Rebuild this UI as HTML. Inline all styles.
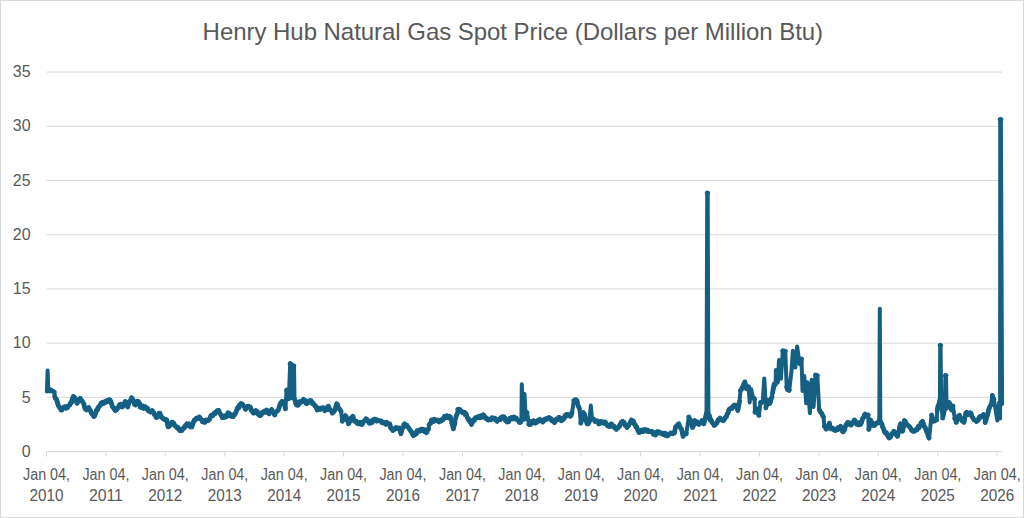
<!DOCTYPE html>
<html><head><meta charset="utf-8"><style>
html,body{margin:0;padding:0;background:#fff;}
body{width:1024px;height:518px;overflow:hidden;}
svg{display:block;}
text{font-family:"Liberation Sans",sans-serif;fill:#595959;}
</style></head><body>
<svg width="1024" height="518" viewBox="0 0 1024 518">
<rect x="0.5" y="0.5" width="1023" height="517" fill="#fff" stroke="#d9d9d9" stroke-width="1"/>
<text x="202.6" y="40.2" font-size="24" textLength="620.5" lengthAdjust="spacing">Henry Hub Natural Gas Spot Price (Dollars per Million Btu)</text>
<g stroke="#d9d9d9" stroke-width="1"><line x1="46.5" x2="1002" y1="397.38" y2="397.38"/><line x1="46.5" x2="1002" y1="343.16" y2="343.16"/><line x1="46.5" x2="1002" y1="288.94" y2="288.94"/><line x1="46.5" x2="1002" y1="234.72" y2="234.72"/><line x1="46.5" x2="1002" y1="180.50" y2="180.50"/><line x1="46.5" x2="1002" y1="126.28" y2="126.28"/><line x1="46.5" x2="1002" y1="72.06" y2="72.06"/></g>
<g font-size="16" text-anchor="end"><text x="30.6" y="456.80">0</text><text x="30.6" y="402.58">5</text><text x="30.6" y="348.36">10</text><text x="30.6" y="294.14">15</text><text x="30.6" y="239.92">20</text><text x="30.6" y="185.70">25</text><text x="30.6" y="131.48">30</text><text x="30.6" y="77.26">35</text></g>
<g stroke="#d9d9d9" stroke-width="1">
<line x1="46.5" x2="1002" y1="451.6" y2="451.6"/><line x1="46.50" x2="46.50" y1="451.6" y2="456.6"/><line x1="105.88" x2="105.88" y1="451.6" y2="456.6"/><line x1="165.26" x2="165.26" y1="451.6" y2="456.6"/><line x1="224.80" x2="224.80" y1="451.6" y2="456.6"/><line x1="284.18" x2="284.18" y1="451.6" y2="456.6"/><line x1="343.56" x2="343.56" y1="451.6" y2="456.6"/><line x1="402.94" x2="402.94" y1="451.6" y2="456.6"/><line x1="462.48" x2="462.48" y1="451.6" y2="456.6"/><line x1="521.86" x2="521.86" y1="451.6" y2="456.6"/><line x1="581.24" x2="581.24" y1="451.6" y2="456.6"/><line x1="640.62" x2="640.62" y1="451.6" y2="456.6"/><line x1="700.16" x2="700.16" y1="451.6" y2="456.6"/><line x1="759.54" x2="759.54" y1="451.6" y2="456.6"/><line x1="818.92" x2="818.92" y1="451.6" y2="456.6"/><line x1="878.30" x2="878.30" y1="451.6" y2="456.6"/><line x1="937.84" x2="937.84" y1="451.6" y2="456.6"/><line x1="997.22" x2="997.22" y1="451.6" y2="456.6"/></g>
<g font-size="16"><text x="23.00" y="479.5" textLength="47" lengthAdjust="spacingAndGlyphs">Jan 04,</text><text x="29.50" y="501" textLength="34" lengthAdjust="spacingAndGlyphs">2010</text><text x="82.38" y="479.5" textLength="47" lengthAdjust="spacingAndGlyphs">Jan 04,</text><text x="88.88" y="501" textLength="34" lengthAdjust="spacingAndGlyphs">2011</text><text x="141.76" y="479.5" textLength="47" lengthAdjust="spacingAndGlyphs">Jan 04,</text><text x="148.26" y="501" textLength="34" lengthAdjust="spacingAndGlyphs">2012</text><text x="201.30" y="479.5" textLength="47" lengthAdjust="spacingAndGlyphs">Jan 04,</text><text x="207.80" y="501" textLength="34" lengthAdjust="spacingAndGlyphs">2013</text><text x="260.68" y="479.5" textLength="47" lengthAdjust="spacingAndGlyphs">Jan 04,</text><text x="267.18" y="501" textLength="34" lengthAdjust="spacingAndGlyphs">2014</text><text x="320.06" y="479.5" textLength="47" lengthAdjust="spacingAndGlyphs">Jan 04,</text><text x="326.56" y="501" textLength="34" lengthAdjust="spacingAndGlyphs">2015</text><text x="379.44" y="479.5" textLength="47" lengthAdjust="spacingAndGlyphs">Jan 04,</text><text x="385.94" y="501" textLength="34" lengthAdjust="spacingAndGlyphs">2016</text><text x="438.98" y="479.5" textLength="47" lengthAdjust="spacingAndGlyphs">Jan 04,</text><text x="445.48" y="501" textLength="34" lengthAdjust="spacingAndGlyphs">2017</text><text x="498.36" y="479.5" textLength="47" lengthAdjust="spacingAndGlyphs">Jan 04,</text><text x="504.86" y="501" textLength="34" lengthAdjust="spacingAndGlyphs">2018</text><text x="557.74" y="479.5" textLength="47" lengthAdjust="spacingAndGlyphs">Jan 04,</text><text x="564.24" y="501" textLength="34" lengthAdjust="spacingAndGlyphs">2019</text><text x="617.12" y="479.5" textLength="47" lengthAdjust="spacingAndGlyphs">Jan 04,</text><text x="623.62" y="501" textLength="34" lengthAdjust="spacingAndGlyphs">2020</text><text x="676.66" y="479.5" textLength="47" lengthAdjust="spacingAndGlyphs">Jan 04,</text><text x="683.16" y="501" textLength="34" lengthAdjust="spacingAndGlyphs">2021</text><text x="736.04" y="479.5" textLength="47" lengthAdjust="spacingAndGlyphs">Jan 04,</text><text x="742.54" y="501" textLength="34" lengthAdjust="spacingAndGlyphs">2022</text><text x="795.42" y="479.5" textLength="47" lengthAdjust="spacingAndGlyphs">Jan 04,</text><text x="801.92" y="501" textLength="34" lengthAdjust="spacingAndGlyphs">2023</text><text x="854.80" y="479.5" textLength="47" lengthAdjust="spacingAndGlyphs">Jan 04,</text><text x="861.30" y="501" textLength="34" lengthAdjust="spacingAndGlyphs">2024</text><text x="914.34" y="479.5" textLength="47" lengthAdjust="spacingAndGlyphs">Jan 04,</text><text x="920.84" y="501" textLength="34" lengthAdjust="spacingAndGlyphs">2025</text><text x="973.72" y="479.5" textLength="47" lengthAdjust="spacingAndGlyphs">Jan 04,</text><text x="980.22" y="501" textLength="34" lengthAdjust="spacingAndGlyphs">2026</text></g>
<path d="M46.9,391.5 L47.6,370.5 L48.3,390.5 L49.0,389.8 L49.9,390.9 L50.8,389.8 L51.6,390.6 L52.4,390.9 L53.1,391.5 L54.2,392.1 L54.8,396.5 L55.4,398.2 L56.3,399.1 L57.3,402.0 L58.2,405.3 L59.2,407.0 L59.9,407.8 L61.0,410.0 L62.0,410.0 L62.9,407.6 L63.7,407.5 L64.6,406.7 L65.4,407.5 L66.0,408.2 L66.6,406.6 L67.4,407.8 L68.1,406.6 L69.0,405.4 L69.7,405.1 L70.6,402.7 L71.5,402.6 L72.3,398.8 L73.4,396.5 L74.4,397.2 L75.2,398.3 L76.1,401.0 L77.1,403.3 L77.9,401.5 L78.8,401.3 L79.3,399.7 L80.2,398.3 L81.1,400.5 L82.0,400.8 L82.9,402.3 L83.9,403.9 L84.5,407.0 L85.4,409.2 L86.4,410.0 L87.1,409.2 L87.8,408.8 L88.8,407.6 L89.7,409.7 L90.6,410.8 L91.3,413.2 L92.2,414.2 L92.9,414.6 L93.8,416.6 L94.4,416.2 L95.2,414.4 L95.9,412.2 L96.9,409.4 L97.7,409.7 L98.5,406.9 L99.1,406.9 L99.7,405.4 L100.6,404.5 L101.2,403.0 L101.9,404.2 L102.7,402.3 L103.5,403.5 L104.3,402.0 L104.9,401.5 L105.8,402.3 L106.6,401.9 L107.2,400.3 L108.0,400.2 L108.8,401.4 L109.8,399.7 L110.5,400.8 L111.3,402.9 L112.3,406.4 L113.0,407.4 L113.9,407.9 L114.4,409.4 L115.4,410.7 L116.2,409.8 L117.2,409.1 L117.9,407.6 L118.8,406.4 L119.7,404.5 L120.6,404.2 L121.5,406.9 L122.2,407.0 L123.1,406.4 L123.7,403.9 L124.4,403.1 L125.3,401.4 L126.0,402.1 L126.9,404.3 L127.8,407.0 L128.5,404.0 L129.1,402.4 L129.9,401.1 L130.6,400.5 L131.5,397.7 L132.3,398.5 L133.0,400.7 L133.8,401.8 L134.6,404.5 L135.6,405.0 L136.3,402.9 L137.0,401.1 L138.0,401.3 L138.7,402.2 L139.7,403.5 L140.1,407.1 L141.1,407.5 L141.8,406.5 L142.6,406.1 L143.3,408.4 L144.2,407.6 L144.7,406.7 L145.5,406.9 L146.1,408.3 L147.0,409.1 L147.6,408.4 L148.6,411.1 L149.3,411.4 L149.9,411.3 L150.8,412.1 L151.3,411.6 L152.2,410.5 L153.0,411.9 L153.6,412.4 L154.4,414.6 L155.5,415.1 L156.2,417.6 L156.8,417.5 L157.8,416.0 L158.2,414.6 L159.0,413.4 L159.9,413.1 L160.9,416.3 L161.8,417.5 L162.7,417.8 L163.3,419.0 L163.8,419.0 L164.8,419.7 L165.5,419.2 L166.0,420.4 L166.8,420.0 L168.0,426.9 L168.7,426.7 L169.7,424.7 L170.3,425.2 L171.1,423.1 L172.0,422.2 L172.6,422.2 L173.6,423.1 L174.5,424.9 L175.0,425.9 L176.1,426.5 L176.6,427.2 L177.4,428.1 L178.0,427.3 L179.1,429.3 L179.6,430.5 L180.3,430.7 L181.2,429.4 L181.8,430.6 L182.4,429.1 L183.1,428.9 L183.8,427.5 L184.5,427.8 L185.3,425.6 L186.1,425.8 L186.8,423.8 L187.5,425.3 L188.2,424.8 L189.0,423.9 L189.6,424.7 L190.2,426.8 L191.0,426.4 L191.8,426.9 L192.7,424.7 L193.4,422.3 L194.3,420.0 L195.0,420.3 L195.6,419.3 L196.3,418.1 L197.3,418.2 L197.9,418.5 L198.8,417.2 L199.3,416.9 L200.1,417.8 L200.8,419.2 L201.5,419.6 L202.3,421.6 L203.0,421.3 L203.8,422.2 L204.6,420.5 L205.2,422.2 L206.0,420.0 L206.4,420.6 L207.1,420.0 L208.0,420.6 L208.6,419.9 L209.6,419.4 L210.1,417.8 L211.1,415.2 L211.8,415.0 L212.7,415.7 L213.2,415.1 L214.1,413.3 L215.1,413.7 L215.5,412.1 L216.5,411.3 L217.1,410.7 L218.0,410.6 L218.8,410.5 L219.5,412.7 L220.1,413.6 L221.1,415.2 L221.8,416.3 L222.3,417.7 L223.3,417.7 L223.8,416.0 L224.5,417.4 L225.3,415.8 L226.1,416.9 L227.0,415.9 L228.0,412.8 L228.9,413.0 L229.4,415.6 L230.4,415.9 L231.1,416.3 L231.7,414.8 L232.8,415.5 L233.3,416.5 L234.3,415.0 L235.1,414.1 L235.7,412.5 L236.5,410.8 L237.4,408.1 L238.1,407.0 L238.9,407.8 L239.5,405.0 L240.3,404.6 L240.9,403.6 L241.8,403.8 L242.4,404.1 L243.2,405.5 L244.1,406.6 L244.8,407.4 L245.5,409.4 L246.2,407.4 L247.0,406.6 L247.9,407.2 L248.6,406.3 L249.2,407.1 L250.2,407.0 L250.9,408.7 L251.4,410.6 L252.1,410.6 L253.0,412.7 L253.5,413.1 L254.3,413.1 L255.2,412.2 L256.0,410.6 L256.7,411.2 L257.3,411.6 L258.1,414.2 L258.9,413.7 L259.8,415.6 L260.4,415.7 L261.4,414.6 L261.9,412.7 L262.7,412.5 L263.5,411.9 L264.1,411.3 L265.0,412.2 L266.0,410.6 L266.6,410.0 L267.3,412.5 L268.2,412.2 L269.1,413.8 L269.7,412.0 L270.8,410.9 L271.6,409.4 L272.3,410.8 L273.0,411.6 L273.8,413.3 L274.8,415.0 L275.3,412.5 L276.2,411.8 L277.0,411.3 L277.8,410.4 L278.5,409.7 L279.1,407.5 L280.0,404.5 L281.0,402.5 L282.0,401.4 L282.6,402.6 L283.1,402.9 L284.1,401.9 L285.4,408.8 L286.6,390.0 L287.5,393.3 L288.2,396.7 L288.8,398.8 L290.2,363.6 L291.2,364.5 L292.0,398.0 L292.9,365.8 L294.0,365.8 L294.5,398.8 L295.1,400.9 L295.9,403.8 L296.6,405.0 L297.5,405.3 L298.2,405.0 L299.0,404.0 L299.5,401.8 L300.4,402.5 L301.0,401.4 L301.8,401.8 L302.7,400.5 L303.5,399.4 L304.3,401.0 L305.0,400.3 L305.9,403.3 L306.6,403.8 L307.4,403.3 L308.2,401.4 L309.0,401.2 L309.5,400.6 L310.4,400.6 L311.2,400.6 L312.0,403.4 L312.6,402.6 L313.4,404.1 L314.1,404.4 L315.0,406.1 L315.8,406.1 L316.4,408.0 L317.3,410.0 L318.1,409.2 L318.8,408.2 L319.3,408.6 L320.2,409.4 L320.9,408.1 L321.6,408.3 L322.3,408.1 L323.1,407.6 L324.0,408.3 L324.8,410.7 L325.4,410.0 L326.0,409.0 L327.1,409.4 L327.7,406.6 L328.5,406.3 L329.1,408.8 L329.9,409.2 L330.6,410.4 L331.7,410.8 L332.3,413.1 L333.3,412.1 L334.1,411.6 L334.8,410.0 L335.6,407.9 L336.6,403.8 L337.4,404.2 L338.1,407.1 L339.1,408.8 L340.0,409.5 L341.0,411.3 L342.3,421.3 L342.9,419.5 L343.8,419.3 L344.4,417.7 L345.4,415.6 L346.3,416.7 L347.1,420.3 L347.9,421.2 L348.5,423.8 L349.2,422.3 L350.2,421.5 L350.6,419.9 L351.3,417.6 L352.0,418.4 L352.9,416.3 L353.8,419.9 L354.8,421.3 L355.4,421.0 L356.3,421.1 L357.0,423.4 L358.0,423.4 L358.6,423.9 L359.5,423.3 L360.1,422.3 L360.9,423.7 L361.7,424.5 L362.3,424.4 L363.0,422.1 L364.0,421.2 L364.5,420.6 L365.2,420.5 L366.0,418.8 L367.0,419.3 L367.6,420.4 L368.3,421.8 L369.1,423.1 L369.7,421.7 L370.5,423.2 L371.4,420.9 L372.3,422.4 L372.9,420.6 L373.6,419.6 L374.2,419.3 L375.0,419.2 L375.7,419.6 L376.6,421.1 L377.3,420.0 L378.2,420.2 L378.8,420.8 L379.6,420.7 L380.2,421.0 L381.4,421.0 L382.0,422.7 L382.9,422.0 L383.5,423.1 L384.2,422.5 L385.0,423.2 L386.0,424.3 L386.8,422.3 L387.2,424.1 L388.4,423.6 L389.0,423.8 L389.8,423.9 L390.5,427.6 L391.4,428.8 L392.2,428.6 L392.8,430.6 L393.4,428.9 L394.4,429.5 L395.3,428.9 L395.9,427.5 L396.7,428.3 L397.4,427.9 L397.9,428.6 L398.8,429.1 L399.6,428.1 L400.9,433.8 L401.7,430.9 L402.3,428.5 L403.3,427.3 L404.0,424.4 L404.6,423.8 L405.5,425.6 L406.2,425.2 L407.0,425.2 L407.6,426.9 L408.4,427.5 L409.4,429.1 L410.2,430.0 L410.9,431.3 L411.6,432.1 L412.8,434.7 L413.4,435.6 L414.1,433.6 L414.9,434.6 L415.6,432.8 L416.4,433.8 L417.0,430.8 L417.8,431.3 L418.4,430.8 L419.3,430.0 L420.1,431.1 L420.7,429.4 L421.6,429.5 L422.2,429.0 L422.8,429.4 L423.4,430.5 L424.2,431.4 L424.9,429.8 L425.6,430.9 L426.4,432.7 L427.1,431.9 L427.7,429.6 L428.5,429.2 L429.2,424.8 L429.9,423.7 L430.9,423.0 L431.5,420.0 L432.4,421.4 L433.2,419.8 L433.7,421.5 L434.6,419.3 L435.3,420.6 L436.1,420.5 L436.7,420.7 L437.4,420.1 L438.2,421.3 L439.0,421.9 L439.9,420.4 L440.6,420.0 L441.0,421.1 L441.9,419.5 L442.3,419.1 L443.1,419.7 L443.8,417.7 L444.8,416.2 L445.3,416.9 L446.0,417.7 L446.8,415.7 L447.3,415.8 L448.3,416.3 L449.0,417.9 L449.5,416.3 L450.3,416.9 L451.3,420.2 L451.8,423.4 L452.6,425.2 L453.4,428.8 L453.9,426.2 L455.0,422.7 L455.8,417.9 L456.2,415.8 L457.2,413.8 L457.8,409.4 L458.5,409.1 L459.3,410.1 L460.2,409.7 L460.9,411.5 L461.5,411.3 L462.3,412.5 L463.0,411.9 L463.6,412.5 L464.5,412.3 L465.0,414.6 L465.7,413.3 L466.5,415.0 L467.0,416.5 L467.9,418.9 L468.8,420.3 L469.3,419.3 L469.9,421.7 L470.9,422.9 L471.5,424.4 L472.2,422.5 L473.2,421.5 L474.0,419.4 L474.8,419.9 L475.5,417.7 L476.3,417.8 L476.9,417.6 L477.7,416.8 L478.2,416.6 L479.0,416.9 L479.6,417.7 L480.5,416.1 L481.1,417.6 L481.9,415.5 L482.7,416.4 L483.5,414.8 L484.0,415.6 L484.7,417.3 L485.7,418.4 L486.1,417.7 L486.9,418.3 L487.8,420.0 L488.8,420.0 L489.5,419.2 L490.3,419.2 L490.8,419.8 L491.9,417.8 L492.5,418.9 L493.1,418.0 L494.0,418.1 L494.6,418.1 L495.5,420.0 L496.4,419.7 L497.1,421.3 L497.7,420.4 L498.7,419.5 L499.3,419.1 L500.3,419.5 L500.8,417.8 L501.7,418.5 L502.5,416.8 L503.1,417.9 L504.0,416.9 L504.7,417.6 L505.5,420.6 L506.2,420.8 L507.1,421.9 L507.8,420.9 L508.7,421.7 L509.2,418.9 L510.1,418.2 L510.6,419.3 L511.5,417.5 L512.3,418.4 L513.1,418.7 L513.9,416.9 L514.6,418.0 L515.6,419.1 L516.4,418.1 L517.0,419.5 L517.9,420.3 L518.6,420.8 L519.5,422.5 L520.5,422.4 L521.4,420.0 L521.8,384.3 L523.3,420.0 L524.5,393.9 L525.8,418.8 L527.0,412.5 L528.9,424.4 L529.5,423.8 L530.5,424.4 L531.0,421.6 L532.0,423.2 L532.6,421.3 L533.4,420.7 L534.4,422.2 L535.1,423.1 L536.0,422.8 L536.7,421.0 L537.5,420.5 L538.1,421.5 L538.9,420.0 L539.8,419.4 L540.3,420.2 L541.1,420.3 L541.7,420.2 L542.7,422.1 L543.3,421.3 L543.8,421.0 L544.8,419.1 L545.5,418.9 L546.1,419.5 L546.9,418.4 L547.5,418.7 L548.2,418.4 L548.9,417.5 L549.6,418.0 L550.1,419.1 L551.0,418.7 L551.8,420.7 L552.4,419.8 L553.1,420.2 L553.7,421.7 L554.5,422.5 L555.1,421.5 L556.0,419.5 L556.8,418.8 L557.6,419.7 L558.3,418.1 L559.0,417.3 L559.8,418.5 L560.7,418.3 L561.4,420.9 L562.0,420.0 L562.8,419.9 L563.3,419.4 L564.2,418.4 L565.1,415.4 L565.8,416.5 L566.4,414.4 L567.0,414.4 L568.0,414.3 L568.8,415.0 L569.5,415.0 L570.1,416.3 L571.1,415.5 L572.0,412.5 L573.9,400.6 L574.6,400.0 L575.5,400.1 L576.0,399.8 L577.0,400.6 L577.7,404.5 L578.7,407.1 L579.5,408.8 L580.8,423.1 L581.5,420.3 L582.3,416.1 L583.3,412.5 L584.3,414.0 L585.1,416.3 L586.2,420.2 L587.0,423.8 L587.9,424.0 L588.5,423.4 L589.5,421.3 L590.8,405.5 L592.0,418.8 L592.8,419.0 L593.6,419.2 L594.5,420.5 L595.0,421.5 L595.8,421.3 L596.5,420.8 L597.4,420.8 L598.1,421.7 L598.8,424.0 L599.5,423.1 L600.3,423.3 L600.9,421.4 L601.5,421.6 L602.5,422.1 L603.2,423.1 L603.9,421.9 L604.5,421.9 L605.4,422.1 L605.9,423.7 L606.7,424.5 L607.5,425.8 L608.3,426.3 L609.1,425.2 L609.8,425.5 L610.4,426.3 L611.2,423.9 L612.0,424.4 L612.6,425.6 L613.6,426.8 L614.2,426.3 L614.7,428.1 L615.7,428.2 L616.4,429.4 L617.3,428.2 L618.2,427.9 L618.9,426.3 L619.5,426.3 L620.2,424.4 L621.1,422.6 L621.7,423.0 L622.6,421.3 L623.1,422.5 L624.2,422.4 L624.7,424.7 L625.5,425.8 L626.4,425.6 L627.0,427.5 L627.7,425.7 L628.3,426.0 L629.3,424.3 L629.7,423.4 L630.8,421.2 L631.4,420.0 L632.2,420.8 L632.8,420.7 L633.5,421.4 L634.3,424.2 L635.1,424.4 L635.9,426.9 L636.7,427.0 L637.4,429.1 L638.3,430.9 L638.9,432.5 L639.6,432.5 L640.7,430.9 L641.5,430.0 L642.1,430.1 L643.1,431.6 L643.8,430.0 L644.6,429.5 L645.4,429.6 L645.9,431.1 L646.8,430.5 L647.5,430.0 L648.3,431.5 L649.0,431.4 L649.9,431.7 L650.5,431.6 L651.3,431.3 L652.1,431.4 L652.7,432.9 L653.4,434.2 L654.1,432.5 L655.0,434.4 L655.6,435.0 L656.5,432.5 L657.1,431.7 L658.1,432.7 L658.8,431.9 L659.6,432.8 L660.1,432.6 L661.0,433.4 L661.9,433.9 L662.5,433.1 L663.0,434.4 L664.1,434.9 L664.4,433.3 L665.1,433.1 L666.1,435.5 L666.8,435.8 L667.5,434.7 L668.1,435.6 L668.7,434.1 L669.7,433.8 L670.3,433.9 L670.9,433.0 L671.9,433.1 L672.6,433.7 L673.5,432.6 L674.4,433.1 L675.6,426.9 L676.6,426.1 L677.3,425.7 L677.8,424.3 L678.8,423.8 L679.6,426.2 L680.4,427.7 L681.3,428.8 L682.2,431.8 L683.1,436.3 L684.0,434.6 L684.8,434.2 L685.3,433.7 L686.3,433.8 L688.8,416.9 L689.8,419.7 L690.6,420.0 L691.4,423.7 L692.5,427.5 L693.3,426.0 L694.0,422.9 L695.0,420.6 L695.7,422.2 L696.4,423.3 L697.2,422.1 L698.1,423.6 L698.8,424.4 L699.4,423.8 L700.2,423.2 L701.2,422.3 L701.9,420.6 L702.9,421.8 L703.8,423.8 L704.5,421.1 L705.2,419.0 L706.5,413.0 L707.2,192.9 L707.7,193.0 L708.4,414.0 L709.5,415.9 L710.2,420.0 L711.1,419.8 L711.6,421.5 L712.5,423.1 L713.5,423.7 L714.1,425.4 L715.0,425.0 L715.7,423.8 L716.5,423.4 L717.4,422.0 L718.0,420.1 L718.8,419.4 L720.0,418.1 L720.7,419.7 L721.7,420.1 L722.3,420.0 L723.2,420.8 L724.1,419.9 L724.7,418.6 L725.8,416.9 L726.5,416.5 L727.1,414.0 L728.0,413.4 L728.6,410.5 L729.3,409.1 L730.1,409.0 L731.1,408.0 L731.9,408.4 L732.6,406.5 L733.6,406.8 L734.1,405.1 L734.6,406.5 L735.3,405.2 L736.2,405.7 L737.2,408.9 L737.8,410.5 L738.7,405.8 L739.5,401.4 L740.5,390.5 L741.3,389.8 L742.1,387.6 L743.2,387.3 L744.0,383.4 L744.9,381.9 L745.7,386.2 L746.5,388.9 L747.3,388.2 L748.0,387.4 L748.6,386.8 L749.7,402.4 L750.8,389.5 L751.5,393.3 L752.4,396.5 L753.1,398.0 L754.0,398.1 L754.6,399.2 L755.0,412.2 L755.8,411.7 L756.5,409.3 L757.3,408.9 L758.2,413.1 L758.9,415.4 L760.5,402.4 L761.3,402.6 L762.1,402.2 L762.7,401.4 L764.3,378.6 L765.9,407.8 L766.8,403.9 L767.6,400.3 L768.2,401.7 L768.8,402.2 L769.7,403.5 L770.5,401.9 L771.2,398.5 L771.9,397.0 L772.6,392.6 L773.4,388.2 L774.1,384.1 L774.9,385.0 L775.6,383.6 L775.9,370.0 L777.8,382.5 L779.0,360.0 L780.9,378.8 L782.8,350.8 L783.5,351.4 L784.6,350.9 L785.3,351.4 L786.7,387.3 L787.5,389.6 L788.2,389.5 L789.2,390.4 L791.5,371.3 L792.8,350.8 L795.3,367.5 L797.1,346.4 L799.6,363.8 L800.4,362.1 L801.5,358.9 L802.5,390.9 L804.3,376.1 L806.2,403.3 L807.4,382.2 L809.9,413.2 L811.7,379.8 L813.6,407.0 L815.5,375.0 L816.6,375.3 L817.3,375.6 L819.2,409.4 L819.8,410.9 L820.8,412.5 L821.6,413.2 L822.6,415.4 L823.5,416.9 L824.4,426.3 L825.4,427.2 L826.0,429.1 L826.9,428.8 L827.6,427.4 L828.5,425.7 L829.4,423.1 L830.2,427.2 L831.3,428.8 L832.0,427.8 L832.6,428.9 L833.2,429.1 L834.1,430.0 L834.8,429.0 L835.5,430.5 L836.3,430.0 L837.2,429.5 L837.6,429.6 L838.4,427.4 L839.0,428.3 L840.0,427.3 L840.6,426.3 L841.4,428.3 L842.2,431.2 L843.1,431.9 L843.8,430.7 L844.7,429.6 L845.3,426.7 L846.1,424.7 L846.9,423.7 L847.5,422.5 L848.4,422.4 L849.0,422.9 L849.8,423.2 L850.3,425.1 L851.3,425.0 L852.0,423.1 L852.8,422.4 L853.6,421.6 L854.4,420.0 L855.2,420.7 L856.1,423.1 L856.5,424.2 L857.5,424.4 L858.4,424.9 L858.9,424.7 L859.8,422.4 L860.3,424.5 L861.3,423.1 L862.1,420.4 L862.7,418.1 L863.5,417.7 L864.4,415.0 L865.1,414.1 L866.0,415.8 L866.5,416.0 L867.4,415.7 L868.1,415.0 L868.8,429.4 L869.8,425.7 L870.6,420.0 L871.5,422.0 L872.0,422.7 L872.9,424.0 L873.6,425.5 L874.4,425.6 L875.2,424.5 L875.8,423.6 L876.6,422.9 L877.3,422.6 L878.1,423.0 L878.8,422.5 L879.3,420.0 L879.8,308.8 L880.3,421.0 L881.1,423.3 L881.9,423.8 L882.5,426.9 L883.4,428.3 L884.3,431.2 L885.0,432.5 L885.7,433.0 L886.6,432.8 L887.2,435.0 L887.7,435.6 L888.6,437.2 L889.2,438.0 L890.0,437.5 L890.8,436.2 L891.7,433.8 L892.4,434.1 L893.0,433.5 L893.8,431.3 L894.5,432.2 L895.3,434.0 L895.9,434.1 L896.7,435.4 L897.5,436.3 L898.4,432.6 L899.2,429.8 L899.8,426.3 L900.6,423.8 L901.6,428.8 L902.5,431.3 L903.5,426.7 L904.4,420.6 L905.1,421.1 L905.8,422.7 L906.7,424.2 L907.1,425.0 L908.2,425.5 L908.8,426.3 L909.3,426.6 L910.0,427.2 L911.1,429.1 L911.7,430.4 L912.5,430.8 L913.1,431.3 L913.9,431.4 L914.7,431.0 L915.5,429.8 L916.2,430.2 L916.9,430.0 L917.7,427.9 L918.2,426.6 L919.1,427.8 L919.8,425.3 L920.5,425.3 L921.1,422.8 L921.7,422.2 L922.5,421.3 L923.1,422.9 L924.0,425.9 L924.4,426.7 L925.1,427.3 L926.0,430.0 L926.9,432.2 L927.7,433.9 L928.1,435.8 L929.1,438.1 L931.6,415.0 L932.6,419.3 L933.5,421.3 L934.5,420.9 L935.0,419.6 L935.9,419.6 L936.6,420.0 L937.3,410.0 L938.1,405.7 L939.1,404.0 L939.9,400.0 L940.2,345.3 L940.6,345.5 L941.2,405.0 L942.7,418.0 L943.6,413.5 L944.8,408.0 L945.4,375.4 L946.0,375.6 L946.6,408.0 L947.3,407.4 L948.1,405.3 L949.1,402.5 L949.8,403.7 L950.9,406.8 L951.6,410.0 L952.9,406.0 L954.8,418.6 L955.6,419.7 L956.3,422.4 L956.9,420.9 L958.0,418.9 L958.7,415.7 L959.5,415.3 L960.2,417.7 L960.9,419.0 L961.6,418.6 L962.3,421.1 L963.3,419.9 L964.0,422.4 L964.8,418.0 L965.9,412.8 L966.8,412.3 L967.4,414.7 L968.3,414.7 L969.2,414.7 L970.3,412.8 L971.1,413.3 L971.8,416.2 L972.7,417.6 L973.4,418.8 L974.1,419.9 L974.9,420.3 L975.8,420.5 L976.5,421.5 L977.3,421.0 L978.4,419.8 L979.1,417.3 L979.9,416.6 L980.4,417.5 L981.4,416.8 L982.0,415.9 L983.0,416.2 L983.5,414.5 L984.2,414.7 L985.2,422.4 L986.0,420.3 L986.9,416.6 L987.8,414.1 L988.6,409.9 L989.5,407.7 L990.0,406.1 L991.0,405.1 L992.4,395.4 L993.1,397.6 L993.9,399.3 L995.3,408.0 L997.3,420.5 L999.2,402.2 L1000.1,418.6 L1000.2,119.4 L1000.9,119.6 L1002.1,404.1" fill="none" stroke="#156082" stroke-width="4" stroke-linejoin="round" stroke-linecap="round"/>
<path d="M48.3,390.5 L49.0,389.8 L49.9,390.9 L50.8,389.8 L51.6,390.6 L52.4,390.9 L53.1,391.5 L54.2,392.1 M54.8,396.5 L55.4,398.2 L56.3,399.1 L57.3,402.0 L58.2,405.3 L59.2,407.0 L59.9,407.8 L61.0,410.0 L62.0,410.0 L62.9,407.6 L63.7,407.5 L64.6,406.7 L65.4,407.5 L66.0,408.2 L66.6,406.6 L67.4,407.8 L68.1,406.6 L69.0,405.4 L69.7,405.1 L70.6,402.7 L71.5,402.6 L72.3,398.8 L73.4,396.5 L74.4,397.2 L75.2,398.3 L76.1,401.0 L77.1,403.3 L77.9,401.5 L78.8,401.3 L79.3,399.7 L80.2,398.3 L81.1,400.5 L82.0,400.8 L82.9,402.3 L83.9,403.9 L84.5,407.0 L85.4,409.2 L86.4,410.0 L87.1,409.2 L87.8,408.8 L88.8,407.6 L89.7,409.7 L90.6,410.8 L91.3,413.2 L92.2,414.2 L92.9,414.6 L93.8,416.6 L94.4,416.2 L95.2,414.4 L95.9,412.2 L96.9,409.4 L97.7,409.7 L98.5,406.9 L99.1,406.9 L99.7,405.4 L100.6,404.5 L101.2,403.0 L101.9,404.2 L102.7,402.3 L103.5,403.5 L104.3,402.0 L104.9,401.5 L105.8,402.3 L106.6,401.9 L107.2,400.3 L108.0,400.2 L108.8,401.4 L109.8,399.7 L110.5,400.8 L111.3,402.9 L112.3,406.4 L113.0,407.4 L113.9,407.9 L114.4,409.4 L115.4,410.7 L116.2,409.8 L117.2,409.1 L117.9,407.6 L118.8,406.4 L119.7,404.5 L120.6,404.2 L121.5,406.9 L122.2,407.0 L123.1,406.4 L123.7,403.9 L124.4,403.1 L125.3,401.4 L126.0,402.1 L126.9,404.3 L127.8,407.0 L128.5,404.0 L129.1,402.4 L129.9,401.1 L130.6,400.5 L131.5,397.7 L132.3,398.5 L133.0,400.7 L133.8,401.8 L134.6,404.5 L135.6,405.0 L136.3,402.9 L137.0,401.1 L138.0,401.3 L138.7,402.2 L139.7,403.5 M140.1,407.1 L141.1,407.5 L141.8,406.5 L142.6,406.1 L143.3,408.4 L144.2,407.6 L144.7,406.7 L145.5,406.9 L146.1,408.3 L147.0,409.1 L147.6,408.4 L148.6,411.1 L149.3,411.4 L149.9,411.3 L150.8,412.1 L151.3,411.6 L152.2,410.5 L153.0,411.9 L153.6,412.4 L154.4,414.6 L155.5,415.1 L156.2,417.6 L156.8,417.5 L157.8,416.0 L158.2,414.6 L159.0,413.4 L159.9,413.1 L160.9,416.3 L161.8,417.5 L162.7,417.8 L163.3,419.0 L163.8,419.0 L164.8,419.7 L165.5,419.2 L166.0,420.4 L166.8,420.0 L168.0,426.9 L168.7,426.7 L169.7,424.7 L170.3,425.2 L171.1,423.1 L172.0,422.2 L172.6,422.2 L173.6,423.1 L174.5,424.9 L175.0,425.9 L176.1,426.5 L176.6,427.2 L177.4,428.1 L178.0,427.3 L179.1,429.3 L179.6,430.5 L180.3,430.7 L181.2,429.4 L181.8,430.6 L182.4,429.1 L183.1,428.9 L183.8,427.5 L184.5,427.8 L185.3,425.6 L186.1,425.8 L186.8,423.8 L187.5,425.3 L188.2,424.8 L189.0,423.9 L189.6,424.7 L190.2,426.8 L191.0,426.4 L191.8,426.9 L192.7,424.7 L193.4,422.3 L194.3,420.0 L195.0,420.3 L195.6,419.3 L196.3,418.1 L197.3,418.2 L197.9,418.5 L198.8,417.2 L199.3,416.9 L200.1,417.8 L200.8,419.2 L201.5,419.6 L202.3,421.6 L203.0,421.3 L203.8,422.2 L204.6,420.5 L205.2,422.2 L206.0,420.0 L206.4,420.6 L207.1,420.0 L208.0,420.6 L208.6,419.9 L209.6,419.4 L210.1,417.8 L211.1,415.2 L211.8,415.0 L212.7,415.7 L213.2,415.1 L214.1,413.3 L215.1,413.7 L215.5,412.1 L216.5,411.3 L217.1,410.7 L218.0,410.6 L218.8,410.5 L219.5,412.7 L220.1,413.6 L221.1,415.2 L221.8,416.3 L222.3,417.7 L223.3,417.7 L223.8,416.0 L224.5,417.4 L225.3,415.8 L226.1,416.9 L227.0,415.9 L228.0,412.8 L228.9,413.0 L229.4,415.6 L230.4,415.9 L231.1,416.3 L231.7,414.8 L232.8,415.5 L233.3,416.5 L234.3,415.0 L235.1,414.1 L235.7,412.5 L236.5,410.8 L237.4,408.1 L238.1,407.0 L238.9,407.8 L239.5,405.0 L240.3,404.6 L240.9,403.6 L241.8,403.8 L242.4,404.1 L243.2,405.5 L244.1,406.6 L244.8,407.4 L245.5,409.4 L246.2,407.4 L247.0,406.6 L247.9,407.2 L248.6,406.3 L249.2,407.1 L250.2,407.0 L250.9,408.7 L251.4,410.6 L252.1,410.6 L253.0,412.7 L253.5,413.1 L254.3,413.1 L255.2,412.2 L256.0,410.6 L256.7,411.2 L257.3,411.6 L258.1,414.2 L258.9,413.7 L259.8,415.6 L260.4,415.7 L261.4,414.6 L261.9,412.7 L262.7,412.5 L263.5,411.9 L264.1,411.3 L265.0,412.2 L266.0,410.6 L266.6,410.0 L267.3,412.5 L268.2,412.2 L269.1,413.8 L269.7,412.0 L270.8,410.9 L271.6,409.4 L272.3,410.8 L273.0,411.6 L273.8,413.3 L274.8,415.0 L275.3,412.5 L276.2,411.8 L277.0,411.3 L277.8,410.4 L278.5,409.7 L279.1,407.5 L280.0,404.5 L281.0,402.5 L282.0,401.4 L282.6,402.6 L283.1,402.9 L284.1,401.9 L285.4,408.8 M286.6,390.0 L287.5,393.3 L288.2,396.7 L288.8,398.8 M290.2,363.6 L291.2,364.5 M292.9,365.8 L294.0,365.8 M294.5,398.8 L295.1,400.9 L295.9,403.8 L296.6,405.0 L297.5,405.3 L298.2,405.0 L299.0,404.0 L299.5,401.8 L300.4,402.5 L301.0,401.4 L301.8,401.8 L302.7,400.5 L303.5,399.4 L304.3,401.0 L305.0,400.3 L305.9,403.3 L306.6,403.8 L307.4,403.3 L308.2,401.4 L309.0,401.2 L309.5,400.6 L310.4,400.6 L311.2,400.6 L312.0,403.4 L312.6,402.6 L313.4,404.1 L314.1,404.4 L315.0,406.1 L315.8,406.1 L316.4,408.0 L317.3,410.0 L318.1,409.2 L318.8,408.2 L319.3,408.6 L320.2,409.4 L320.9,408.1 L321.6,408.3 L322.3,408.1 L323.1,407.6 L324.0,408.3 L324.8,410.7 L325.4,410.0 L326.0,409.0 L327.1,409.4 L327.7,406.6 L328.5,406.3 L329.1,408.8 L329.9,409.2 L330.6,410.4 L331.7,410.8 L332.3,413.1 L333.3,412.1 L334.1,411.6 L334.8,410.0 L335.6,407.9 L336.6,403.8 L337.4,404.2 L338.1,407.1 L339.1,408.8 L340.0,409.5 L341.0,411.3 M342.3,421.3 L342.9,419.5 L343.8,419.3 L344.4,417.7 L345.4,415.6 L346.3,416.7 L347.1,420.3 L347.9,421.2 L348.5,423.8 L349.2,422.3 L350.2,421.5 L350.6,419.9 L351.3,417.6 L352.0,418.4 L352.9,416.3 L353.8,419.9 L354.8,421.3 L355.4,421.0 L356.3,421.1 L357.0,423.4 L358.0,423.4 L358.6,423.9 L359.5,423.3 L360.1,422.3 L360.9,423.7 L361.7,424.5 L362.3,424.4 L363.0,422.1 L364.0,421.2 L364.5,420.6 L365.2,420.5 L366.0,418.8 L367.0,419.3 L367.6,420.4 L368.3,421.8 L369.1,423.1 L369.7,421.7 L370.5,423.2 L371.4,420.9 L372.3,422.4 L372.9,420.6 L373.6,419.6 L374.2,419.3 L375.0,419.2 L375.7,419.6 L376.6,421.1 L377.3,420.0 L378.2,420.2 L378.8,420.8 L379.6,420.7 L380.2,421.0 L381.4,421.0 L382.0,422.7 L382.9,422.0 L383.5,423.1 L384.2,422.5 L385.0,423.2 L386.0,424.3 L386.8,422.3 L387.2,424.1 L388.4,423.6 L389.0,423.8 L389.8,423.9 L390.5,427.6 L391.4,428.8 L392.2,428.6 L392.8,430.6 L393.4,428.9 L394.4,429.5 L395.3,428.9 L395.9,427.5 L396.7,428.3 L397.4,427.9 L397.9,428.6 L398.8,429.1 L399.6,428.1 L400.9,433.8 L401.7,430.9 L402.3,428.5 L403.3,427.3 L404.0,424.4 L404.6,423.8 L405.5,425.6 L406.2,425.2 L407.0,425.2 L407.6,426.9 L408.4,427.5 L409.4,429.1 L410.2,430.0 L410.9,431.3 L411.6,432.1 L412.8,434.7 L413.4,435.6 L414.1,433.6 L414.9,434.6 L415.6,432.8 L416.4,433.8 L417.0,430.8 L417.8,431.3 L418.4,430.8 L419.3,430.0 L420.1,431.1 L420.7,429.4 L421.6,429.5 L422.2,429.0 L422.8,429.4 L423.4,430.5 L424.2,431.4 L424.9,429.8 L425.6,430.9 L426.4,432.7 L427.1,431.9 L427.7,429.6 L428.5,429.2 M429.2,424.8 L429.9,423.7 L430.9,423.0 L431.5,420.0 L432.4,421.4 L433.2,419.8 L433.7,421.5 L434.6,419.3 L435.3,420.6 L436.1,420.5 L436.7,420.7 L437.4,420.1 L438.2,421.3 L439.0,421.9 L439.9,420.4 L440.6,420.0 L441.0,421.1 L441.9,419.5 L442.3,419.1 L443.1,419.7 L443.8,417.7 L444.8,416.2 L445.3,416.9 L446.0,417.7 L446.8,415.7 L447.3,415.8 L448.3,416.3 L449.0,417.9 L449.5,416.3 L450.3,416.9 L451.3,420.2 M451.8,423.4 L452.6,425.2 L453.4,428.8 L453.9,426.2 L455.0,422.7 M455.8,417.9 L456.2,415.8 L457.2,413.8 M457.8,409.4 L458.5,409.1 L459.3,410.1 L460.2,409.7 L460.9,411.5 L461.5,411.3 L462.3,412.5 L463.0,411.9 L463.6,412.5 L464.5,412.3 L465.0,414.6 L465.7,413.3 L466.5,415.0 L467.0,416.5 L467.9,418.9 L468.8,420.3 L469.3,419.3 L469.9,421.7 L470.9,422.9 L471.5,424.4 L472.2,422.5 L473.2,421.5 L474.0,419.4 L474.8,419.9 L475.5,417.7 L476.3,417.8 L476.9,417.6 L477.7,416.8 L478.2,416.6 L479.0,416.9 L479.6,417.7 L480.5,416.1 L481.1,417.6 L481.9,415.5 L482.7,416.4 L483.5,414.8 L484.0,415.6 L484.7,417.3 L485.7,418.4 L486.1,417.7 L486.9,418.3 L487.8,420.0 L488.8,420.0 L489.5,419.2 L490.3,419.2 L490.8,419.8 L491.9,417.8 L492.5,418.9 L493.1,418.0 L494.0,418.1 L494.6,418.1 L495.5,420.0 L496.4,419.7 L497.1,421.3 L497.7,420.4 L498.7,419.5 L499.3,419.1 L500.3,419.5 L500.8,417.8 L501.7,418.5 L502.5,416.8 L503.1,417.9 L504.0,416.9 L504.7,417.6 L505.5,420.6 L506.2,420.8 L507.1,421.9 L507.8,420.9 L508.7,421.7 L509.2,418.9 L510.1,418.2 L510.6,419.3 L511.5,417.5 L512.3,418.4 L513.1,418.7 L513.9,416.9 L514.6,418.0 L515.6,419.1 L516.4,418.1 L517.0,419.5 L517.9,420.3 L518.6,420.8 L519.5,422.5 L520.5,422.4 L521.4,420.0 M525.8,418.8 L527.0,412.5 M528.9,424.4 L529.5,423.8 L530.5,424.4 L531.0,421.6 L532.0,423.2 L532.6,421.3 L533.4,420.7 L534.4,422.2 L535.1,423.1 L536.0,422.8 L536.7,421.0 L537.5,420.5 L538.1,421.5 L538.9,420.0 L539.8,419.4 L540.3,420.2 L541.1,420.3 L541.7,420.2 L542.7,422.1 L543.3,421.3 L543.8,421.0 L544.8,419.1 L545.5,418.9 L546.1,419.5 L546.9,418.4 L547.5,418.7 L548.2,418.4 L548.9,417.5 L549.6,418.0 L550.1,419.1 L551.0,418.7 L551.8,420.7 L552.4,419.8 L553.1,420.2 L553.7,421.7 L554.5,422.5 L555.1,421.5 L556.0,419.5 L556.8,418.8 L557.6,419.7 L558.3,418.1 L559.0,417.3 L559.8,418.5 L560.7,418.3 L561.4,420.9 L562.0,420.0 L562.8,419.9 L563.3,419.4 L564.2,418.4 L565.1,415.4 L565.8,416.5 L566.4,414.4 L567.0,414.4 L568.0,414.3 L568.8,415.0 L569.5,415.0 L570.1,416.3 L571.1,415.5 L572.0,412.5 M573.9,400.6 L574.6,400.0 L575.5,400.1 L576.0,399.8 L577.0,400.6 L577.7,404.5 L578.7,407.1 L579.5,408.8 M580.8,423.1 L581.5,420.3 L582.3,416.1 L583.3,412.5 L584.3,414.0 L585.1,416.3 L586.2,420.2 L587.0,423.8 L587.9,424.0 L588.5,423.4 L589.5,421.3 M592.0,418.8 L592.8,419.0 L593.6,419.2 L594.5,420.5 L595.0,421.5 L595.8,421.3 L596.5,420.8 L597.4,420.8 L598.1,421.7 L598.8,424.0 L599.5,423.1 L600.3,423.3 L600.9,421.4 L601.5,421.6 L602.5,422.1 L603.2,423.1 L603.9,421.9 L604.5,421.9 L605.4,422.1 L605.9,423.7 L606.7,424.5 L607.5,425.8 L608.3,426.3 L609.1,425.2 L609.8,425.5 L610.4,426.3 L611.2,423.9 L612.0,424.4 L612.6,425.6 L613.6,426.8 L614.2,426.3 L614.7,428.1 L615.7,428.2 L616.4,429.4 L617.3,428.2 L618.2,427.9 L618.9,426.3 L619.5,426.3 L620.2,424.4 L621.1,422.6 L621.7,423.0 L622.6,421.3 L623.1,422.5 L624.2,422.4 L624.7,424.7 L625.5,425.8 L626.4,425.6 L627.0,427.5 L627.7,425.7 L628.3,426.0 L629.3,424.3 L629.7,423.4 L630.8,421.2 L631.4,420.0 L632.2,420.8 L632.8,420.7 L633.5,421.4 L634.3,424.2 L635.1,424.4 L635.9,426.9 L636.7,427.0 L637.4,429.1 L638.3,430.9 L638.9,432.5 L639.6,432.5 L640.7,430.9 L641.5,430.0 L642.1,430.1 L643.1,431.6 L643.8,430.0 L644.6,429.5 L645.4,429.6 L645.9,431.1 L646.8,430.5 L647.5,430.0 L648.3,431.5 L649.0,431.4 L649.9,431.7 L650.5,431.6 L651.3,431.3 L652.1,431.4 L652.7,432.9 L653.4,434.2 L654.1,432.5 L655.0,434.4 L655.6,435.0 L656.5,432.5 L657.1,431.7 L658.1,432.7 L658.8,431.9 L659.6,432.8 L660.1,432.6 L661.0,433.4 L661.9,433.9 L662.5,433.1 L663.0,434.4 L664.1,434.9 L664.4,433.3 L665.1,433.1 L666.1,435.5 L666.8,435.8 L667.5,434.7 L668.1,435.6 L668.7,434.1 L669.7,433.8 L670.3,433.9 L670.9,433.0 L671.9,433.1 L672.6,433.7 L673.5,432.6 L674.4,433.1 L675.6,426.9 L676.6,426.1 L677.3,425.7 L677.8,424.3 L678.8,423.8 L679.6,426.2 L680.4,427.7 L681.3,428.8 L682.2,431.8 L683.1,436.3 L684.0,434.6 L684.8,434.2 L685.3,433.7 L686.3,433.8 M688.8,416.9 L689.8,419.7 L690.6,420.0 L691.4,423.7 L692.5,427.5 L693.3,426.0 L694.0,422.9 L695.0,420.6 L695.7,422.2 L696.4,423.3 L697.2,422.1 L698.1,423.6 L698.8,424.4 L699.4,423.8 L700.2,423.2 L701.2,422.3 L701.9,420.6 L702.9,421.8 L703.8,423.8 L704.5,421.1 L705.2,419.0 L706.5,413.0 M707.2,192.9 L707.7,193.0 M708.4,414.0 L709.5,415.9 L710.2,420.0 L711.1,419.8 L711.6,421.5 L712.5,423.1 L713.5,423.7 L714.1,425.4 L715.0,425.0 L715.7,423.8 L716.5,423.4 L717.4,422.0 L718.0,420.1 L718.8,419.4 L720.0,418.1 L720.7,419.7 L721.7,420.1 L722.3,420.0 L723.2,420.8 L724.1,419.9 L724.7,418.6 L725.8,416.9 L726.5,416.5 L727.1,414.0 L728.0,413.4 L728.6,410.5 L729.3,409.1 L730.1,409.0 L731.1,408.0 L731.9,408.4 L732.6,406.5 L733.6,406.8 L734.1,405.1 L734.6,406.5 L735.3,405.2 L736.2,405.7 L737.2,408.9 L737.8,410.5 L738.7,405.8 L739.5,401.4 M740.5,390.5 L741.3,389.8 L742.1,387.6 L743.2,387.3 L744.0,383.4 L744.9,381.9 L745.7,386.2 L746.5,388.9 L747.3,388.2 L748.0,387.4 L748.6,386.8 M750.8,389.5 L751.5,393.3 L752.4,396.5 L753.1,398.0 L754.0,398.1 L754.6,399.2 M755.0,412.2 L755.8,411.7 L756.5,409.3 L757.3,408.9 L758.2,413.1 L758.9,415.4 M760.5,402.4 L761.3,402.6 L762.1,402.2 L762.7,401.4 M765.9,407.8 L766.8,403.9 L767.6,400.3 L768.2,401.7 L768.8,402.2 L769.7,403.5 L770.5,401.9 L771.2,398.5 L771.9,397.0 M772.6,392.6 L773.4,388.2 L774.1,384.1 L774.9,385.0 L775.6,383.6 M782.8,350.8 L783.5,351.4 L784.6,350.9 L785.3,351.4 M786.7,387.3 L787.5,389.6 L788.2,389.5 L789.2,390.4 M799.6,363.8 L800.4,362.1 L801.5,358.9 M815.5,375.0 L816.6,375.3 L817.3,375.6 M819.2,409.4 L819.8,410.9 L820.8,412.5 L821.6,413.2 L822.6,415.4 L823.5,416.9 M824.4,426.3 L825.4,427.2 L826.0,429.1 L826.9,428.8 L827.6,427.4 L828.5,425.7 L829.4,423.1 L830.2,427.2 L831.3,428.8 L832.0,427.8 L832.6,428.9 L833.2,429.1 L834.1,430.0 L834.8,429.0 L835.5,430.5 L836.3,430.0 L837.2,429.5 L837.6,429.6 L838.4,427.4 L839.0,428.3 L840.0,427.3 L840.6,426.3 L841.4,428.3 L842.2,431.2 L843.1,431.9 L843.8,430.7 L844.7,429.6 L845.3,426.7 L846.1,424.7 L846.9,423.7 L847.5,422.5 L848.4,422.4 L849.0,422.9 L849.8,423.2 L850.3,425.1 L851.3,425.0 L852.0,423.1 L852.8,422.4 L853.6,421.6 L854.4,420.0 L855.2,420.7 L856.1,423.1 L856.5,424.2 L857.5,424.4 L858.4,424.9 L858.9,424.7 L859.8,422.4 L860.3,424.5 L861.3,423.1 L862.1,420.4 L862.7,418.1 L863.5,417.7 L864.4,415.0 L865.1,414.1 L866.0,415.8 L866.5,416.0 L867.4,415.7 L868.1,415.0 M868.8,429.4 L869.8,425.7 M870.6,420.0 L871.5,422.0 L872.0,422.7 L872.9,424.0 L873.6,425.5 L874.4,425.6 L875.2,424.5 L875.8,423.6 L876.6,422.9 L877.3,422.6 L878.1,423.0 L878.8,422.5 L879.3,420.0 M880.3,421.0 L881.1,423.3 L881.9,423.8 L882.5,426.9 L883.4,428.3 L884.3,431.2 L885.0,432.5 L885.7,433.0 L886.6,432.8 L887.2,435.0 L887.7,435.6 L888.6,437.2 L889.2,438.0 L890.0,437.5 L890.8,436.2 L891.7,433.8 L892.4,434.1 L893.0,433.5 L893.8,431.3 L894.5,432.2 L895.3,434.0 L895.9,434.1 L896.7,435.4 L897.5,436.3 L898.4,432.6 L899.2,429.8 L899.8,426.3 L900.6,423.8 L901.6,428.8 L902.5,431.3 L903.5,426.7 M904.4,420.6 L905.1,421.1 L905.8,422.7 L906.7,424.2 L907.1,425.0 L908.2,425.5 L908.8,426.3 L909.3,426.6 L910.0,427.2 L911.1,429.1 L911.7,430.4 L912.5,430.8 L913.1,431.3 L913.9,431.4 L914.7,431.0 L915.5,429.8 L916.2,430.2 L916.9,430.0 L917.7,427.9 L918.2,426.6 L919.1,427.8 L919.8,425.3 L920.5,425.3 L921.1,422.8 L921.7,422.2 L922.5,421.3 L923.1,422.9 L924.0,425.9 L924.4,426.7 L925.1,427.3 L926.0,430.0 L926.9,432.2 L927.7,433.9 L928.1,435.8 L929.1,438.1 M931.6,415.0 L932.6,419.3 L933.5,421.3 L934.5,420.9 L935.0,419.6 L935.9,419.6 L936.6,420.0 M937.3,410.0 L938.1,405.7 L939.1,404.0 L939.9,400.0 M940.2,345.3 L940.6,345.5 M942.7,418.0 L943.6,413.5 L944.8,408.0 M945.4,375.4 L946.0,375.6 M946.6,408.0 L947.3,407.4 L948.1,405.3 L949.1,402.5 L949.8,403.7 L950.9,406.8 L951.6,410.0 L952.9,406.0 M954.8,418.6 L955.6,419.7 L956.3,422.4 L956.9,420.9 L958.0,418.9 L958.7,415.7 L959.5,415.3 L960.2,417.7 L960.9,419.0 L961.6,418.6 L962.3,421.1 L963.3,419.9 L964.0,422.4 L964.8,418.0 L965.9,412.8 L966.8,412.3 L967.4,414.7 L968.3,414.7 L969.2,414.7 L970.3,412.8 L971.1,413.3 L971.8,416.2 L972.7,417.6 L973.4,418.8 L974.1,419.9 L974.9,420.3 L975.8,420.5 L976.5,421.5 L977.3,421.0 L978.4,419.8 L979.1,417.3 L979.9,416.6 L980.4,417.5 L981.4,416.8 L982.0,415.9 L983.0,416.2 L983.5,414.5 L984.2,414.7 M985.2,422.4 L986.0,420.3 L986.9,416.6 L987.8,414.1 L988.6,409.9 L989.5,407.7 L990.0,406.1 L991.0,405.1 M992.4,395.4 L993.1,397.6 L993.9,399.3 M1000.2,119.4 L1000.9,119.6" fill="none" stroke="#156082" stroke-width="4.8" stroke-linejoin="round" stroke-linecap="round"/>
</svg>
</body></html>
